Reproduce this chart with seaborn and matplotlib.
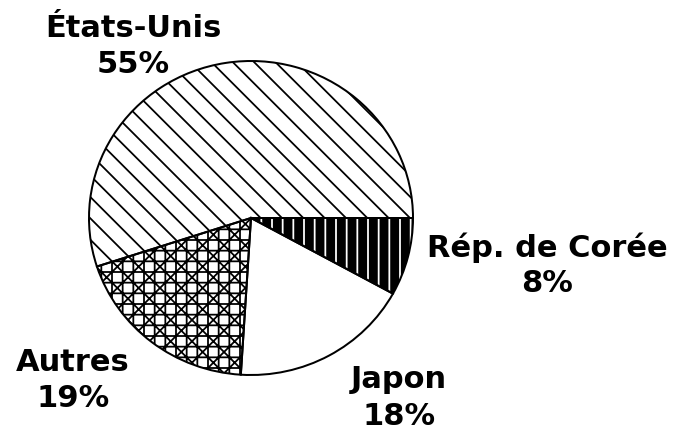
import seaborn as sns
import matplotlib.pyplot as plt

# pie shares (percent), counterclockwise from east
pays = ['États-Unis', 'Autres', 'Japon', 'Rép. de Corée']
parts = [55, 19, 18, 8]
etiquettes = ['55%', '19%', '18%', '8%']

sns.set_style('white')
plt.rcParams['font.family'] = ['DejaVu Sans']
plt.rcParams['text.color'] = 'black'
plt.rcParams['hatch.linewidth'] = 2.0

# the dpi sets the hatch spacing, figsize keeps the output at 674x431
DPI = 64
W, H = 674, 431
# pie centre and radii in pixels (slightly wider than tall, like the scan)
CX, CY, RX, RY = 251, 218, 162, 157
FS = 30.5 * 72 / DPI  # ~30 px letters

fig = plt.figure(figsize=(W / DPI, H / DPI), dpi=DPI)
ax = fig.add_axes([0, 0, 1, 1])

# hatched fills, hatch colour follows the edge colour
hachures = ['\\', '+x', '', '|']
faces = ['white', 'white', 'white', 'black']
edges = ['black', 'black', 'black', 'white']
wedges, _ = ax.pie(parts, startangle=0, counterclock=True, radius=1,
                   wedgeprops=dict(linewidth=0))
for w, h, fc, ec in zip(wedges, hachures, faces, edges):
    w.set_hatch(h)
    w.set_facecolor(fc)
    w.set_edgecolor(ec)

# black outlines on top
ax.pie(parts, startangle=0, counterclock=True, radius=1,
       wedgeprops=dict(fill=False, edgecolor='black', linewidth=2.0 * 72 / DPI))

ax.set_aspect('auto')
ax.set_xlim(-CX / RX, (W - CX) / RX)
ax.set_ylim(-(H - CY) / RY, CY / RY)
ax.axis('off')

# label positions (pixels: x centre, baseline of name, baseline of percent)
positions = [(133, 37, 73), (73, 371, 407), (399, 388, 425), (547, 257, 292)]
for nom, pct, (x, y1, y2) in zip(pays, etiquettes, positions):
    fig.text(x / W, 1 - y1 / H, nom, ha='center', va='baseline',
             fontsize=FS, fontweight='bold')
    fig.text(x / W, 1 - y2 / H, pct, ha='center', va='baseline',
             fontsize=FS, fontweight='bold')

fig.savefig('out.png', dpi=DPI)
